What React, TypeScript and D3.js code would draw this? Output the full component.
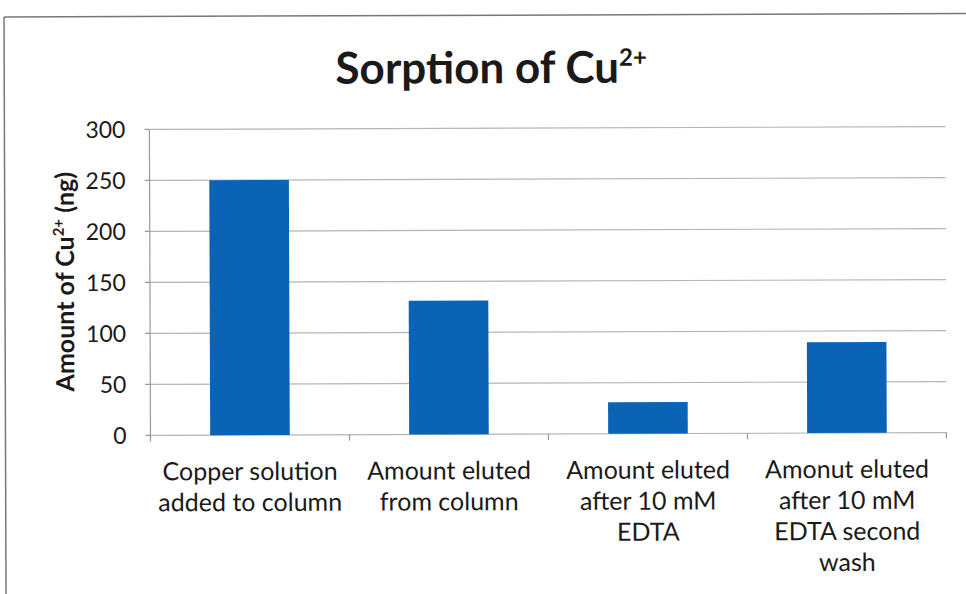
import React from "react";
import * as d3 from "d3";

const categories: string[][] = [
  ["Copper solution", "added to column"],
  ["Amount eluted", "from column"],
  ["Amount eluted", "after 10 mM", "EDTA"],
  ["Amonut eluted", "after 10 mM", "EDTA second", "wash"],
];
const values: number[] = [250, 131, 31, 89];
const yTicks: number[] = [0, 50, 100, 150, 200, 250, 300];

const W = 966;
const H = 594;
const FONT = "Lato, 'Open Sans', 'Liberation Sans', sans-serif";

export default function App() {
  const left = 150;
  const right = 946;
  const x = d3
    .scaleBand<number>()
    .domain(values.map((_, i) => i))
    .range([left, right])
    .paddingInner(0.6)
    .paddingOuter(0.3);
  const y = d3.scaleLinear().domain([0, 300]).range([434, 128]);
  const step = x.step();
  const boundaries = d3.range(categories.length + 1).map((k) => left + k * step);

  return (
    <svg
      width={W}
      height={H}
      style={{ position: "absolute", left: 0, top: 0, background: "#fff" }}
    >
      <rect x={0} y={0} width={W} height={H} fill="#fff" />
      <g transform={`rotate(-0.2, 550, 300)`}>
        {/* chart frame */}
        <line x1={5} x2={W + 10} y1={15} y2={15} stroke="#777" strokeWidth={1.5} />
        <line x1={5} x2={5} y1={15} y2={H + 10} stroke="#777" strokeWidth={1.5} />

        {/* title */}
        <text
          x={492}
          y={83}
          textAnchor="middle"
          fontFamily={FONT}
          fontWeight={700}
          fontSize={44}
          fill="#1a1a1a"
        >
          Sorption of Cu
          <tspan fontSize={24} dy={-17}>2+</tspan>
        </text>

        {/* gridlines */}
        {yTicks.map((t) => (
          <line
            key={"g" + t}
            x1={left}
            x2={right}
            y1={y(t)}
            y2={y(t)}
            stroke="#b5b5b5"
            strokeWidth={1.2}
          />
        ))}

        {/* y axis */}
        <line x1={left} x2={left} y1={y(300)} y2={y(0) + 5} stroke="#999" strokeWidth={1.2} />
        {yTicks.map((t) => (
          <g key={"t" + t}>
            <line x1={left - 5} x2={left} y1={y(t)} y2={y(t)} stroke="#999" strokeWidth={1.2} />
            <text
              x={left - 24}
              y={y(t)}
              dy="0.36em"
              textAnchor="end"
              fontFamily={FONT}
              fontSize={23}
              fill="#1a1a1a"
            >
              {t}
            </text>
          </g>
        ))}

        {/* category ticks */}
        {boundaries.map((b, i) => (
          <line key={"c" + i} x1={b} x2={b} y1={y(0)} y2={y(0) + 6} stroke="#999" strokeWidth={1.2} />
        ))}

        {/* bars */}
        {values.map((v, i) => (
          <rect
            key={"b" + i}
            x={x(i)}
            y={y(v)}
            width={x.bandwidth()}
            height={y(0) - y(v)}
            fill="#0b63b5"
          />
        ))}

        {/* category labels */}
        {categories.map((lines, i) => (
          <text
            key={"l" + i}
            textAnchor="middle"
            fontFamily={FONT}
            fontSize={25}
            fill="#1a1a1a"
          >
            {lines.map((ln, j) => (
              <tspan key={j} x={(x(i) as number) + x.bandwidth() / 2} y={479 + j * 31}>
                {ln}
              </tspan>
            ))}
          </text>
        ))}

        {/* y axis title */}
        <text
          transform={`translate(74, ${y(150) - 1}) rotate(-90)`}
          textAnchor="middle"
          fontFamily={FONT}
          fontWeight={700}
          fontSize={25}
          fill="#1a1a1a"
        >
          Amount of Cu
          <tspan fontSize={15} dy={-10}>2+</tspan>
          <tspan dy={10}> (ng)</tspan>
        </text>
      </g>
    </svg>
  );
}
